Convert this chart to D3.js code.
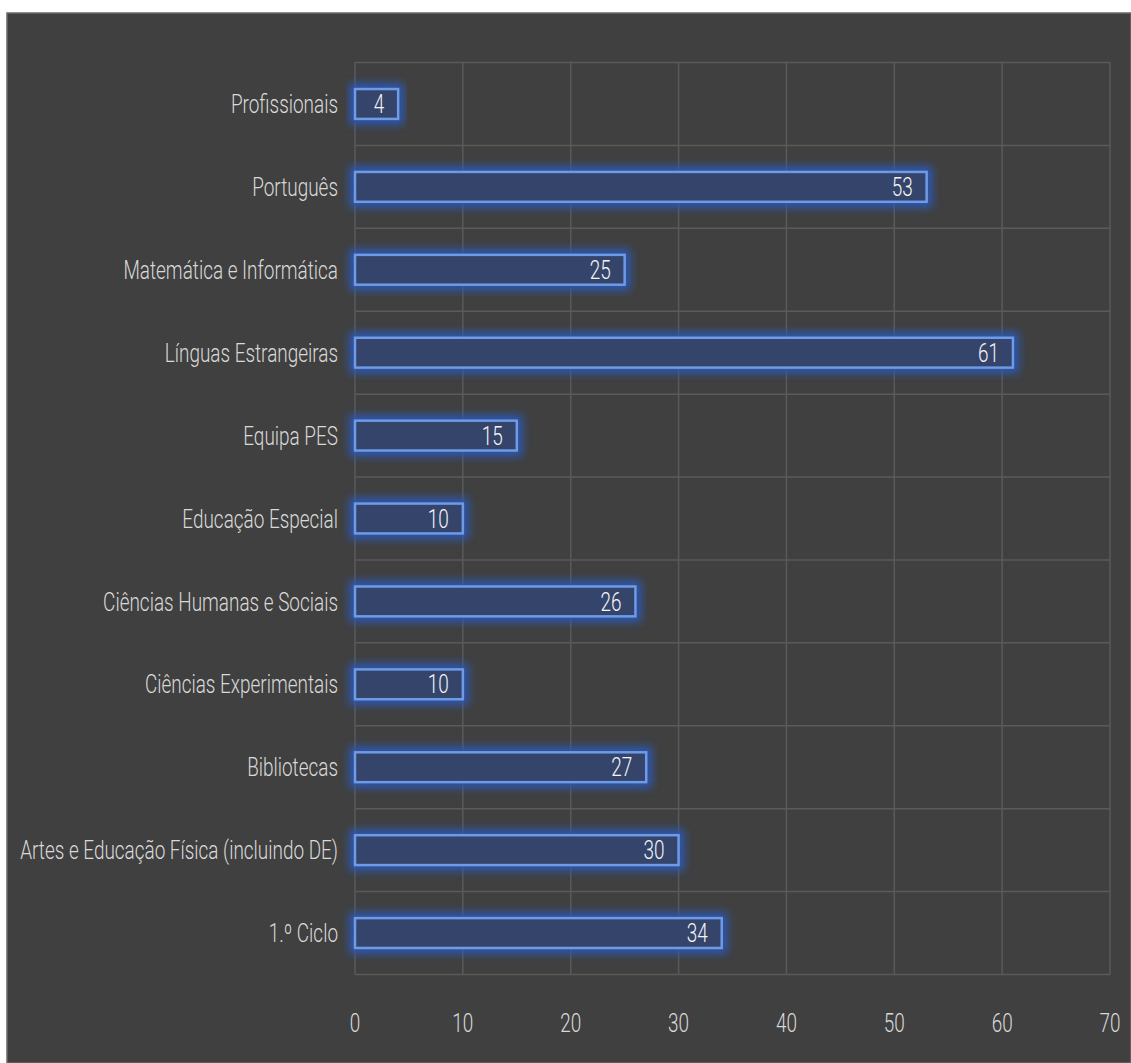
<!DOCTYPE html>
<html><head><meta charset="utf-8">
<script src="https://cdn.jsdelivr.net/npm/d3@7"></script>
<style>
html,body{margin:0;padding:0;background:#fff;}
svg{display:block;}
text{font-family:Roboto,"Open Sans",sans-serif;font-weight:300;}
</style></head>
<body>
<svg id="chart" width="1131" height="1063"></svg>
<script>
const categories = ["Profissionais","Português","Matemática e Informática","Línguas Estrangeiras","Equipa PES","Educação Especial","Ciências Humanas e Sociais","Ciências Experimentais","Bibliotecas","Artes e Educação Física (incluindo DE)","1.º Ciclo"];
const values = [4,53,25,61,15,10,26,10,27,30,34];
const xTicks = [0,10,20,30,40,50,60,70];

const svg = d3.select("#chart");
const W = 1131, H = 1063;
const defs = svg.append("defs");
const glow = defs.append("filter").attr("id","glow").attr("x","-20%").attr("y","-80%").attr("width","140%").attr("height","260%");
glow.append("feGaussianBlur").attr("in","SourceGraphic").attr("stdDeviation",4);

// panel
svg.append("rect").attr("x",7).attr("y",13).attr("width",W-7).attr("height",H-13)
  .attr("fill","#404040").attr("stroke","#6a6a6a").attr("stroke-width",1.5);

const x = d3.scaleLinear().domain([0,70]).range([355,1110]);
const y = d3.scaleBand().domain(categories).range([62.5,974.5]).paddingInner(0.64).paddingOuter(0.32);
const step = y.step();

const grid = svg.append("g");
grid.selectAll("line.v").data(xTicks).join("line")
  .attr("x1",d=>x(d)).attr("x2",d=>x(d)).attr("y1",62.5).attr("y2",974.5)
  .attr("stroke","#5a5a5a").attr("stroke-width",1.5);
grid.selectAll("line.h").data(d3.range(categories.length+1)).join("line")
  .attr("x1",x(0)).attr("x2",x(70))
  .attr("y1",i=>62.5+i*step).attr("y2",i=>62.5+i*step)
  .attr("stroke","#5a5a5a").attr("stroke-width",1.5);

// bars
const bars = svg.append("g");
bars.selectAll("rect.glow").data(values).join("rect").attr("class","glow")
  .attr("x",x(0)).attr("y",(d,i)=>y(categories[i]))
  .attr("width",d=>x(d)-x(0)).attr("height",y.bandwidth())
  .attr("fill","none").attr("stroke","#2a58b8").attr("stroke-width",11)
  .attr("filter","url(#glow)");
bars.selectAll("rect.bar").data(values).join("rect").attr("class","bar")
  .attr("x",x(0)).attr("y",(d,i)=>y(categories[i]))
  .attr("width",d=>x(d)-x(0)).attr("height",y.bandwidth())
  .attr("fill","#34446a").attr("stroke","#6e9ae6").attr("stroke-width",2.5);

const FS = 26;
// category labels (measured, then condensed horizontally)
const catG = svg.append("g");
const cats = catG.selectAll("text").data(categories).join("text")
  .attr("text-anchor","end").attr("fill","#d9d9d9").attr("font-size",FS)
  .attr("dy","0.35em").text(d=>d);
const longest = d3.max(cats.nodes(), n=>n.getComputedTextLength());
const sx = 318/longest;
cats.attr("transform",d=>`translate(338,${y(d)+y.bandwidth()/2}) scale(${sx},1)`);

// value labels
svg.append("g").selectAll("text").data(values).join("text")
  .attr("transform",(d,i)=>`translate(${x(d)-14},${y(categories[i])+y.bandwidth()/2}) scale(${sx},1)`)
  .attr("dy","0.35em").attr("text-anchor","end")
  .attr("fill","#f4f4f4").attr("font-size",FS)
  .text(d=>d);

// x tick labels
svg.append("g").selectAll("text").data(xTicks).join("text")
  .attr("transform",d=>`translate(${x(d)},1023) scale(${sx},1)`)
  .attr("dy","0.35em").attr("text-anchor","middle")
  .attr("fill","#d9d9d9").attr("font-size",FS)
  .text(d=>d);
</script>
</body></html>
